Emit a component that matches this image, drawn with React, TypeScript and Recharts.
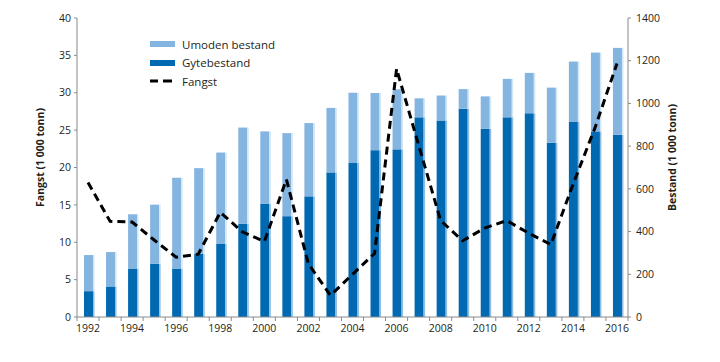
import React from "react";
import { ComposedChart, Bar, Line, XAxis, YAxis, Legend } from "recharts";

const years = [
  "1992", "1993", "1994", "1995", "1996", "1997", "1998", "1999", "2000", "2001",
  "2002", "2003", "2004", "2005", "2006", "2007", "2008", "2009", "2010", "2011",
  "2012", "2013", "2014", "2015", "2016",
];
const gytebestand = [
  121, 143, 227, 249, 227, 295, 342, 437, 531, 472,
  565, 677, 721, 781, 785, 935, 920, 975, 881, 935,
  954, 816, 915, 869, 853,
];
const umodenBestand = [
  169, 161, 254, 277, 425, 402, 428, 450, 338, 389,
  343, 302, 329, 268, 281, 89, 117, 92, 152, 180,
  189, 258, 281, 369, 407,
];
const fangst = [
  18.0, 12.8, 12.7, 10.3, 8.0, 8.4, 14.0, 11.4, 10.1, 18.4,
  7.1, 2.9, 5.7, 8.5, 33.2, 23.0, 12.9, 10.2, 11.9, 12.9,
  11.2, 9.7, 17.7, 25.3, 33.9,
];
const leftTicks = [0, 5, 10, 15, 20, 25, 30, 35, 40];
const rightTicks = [0, 200, 400, 600, 800, 1000, 1200, 1400];

const data = years.map((year, i) => ({
  year,
  gyte: gytebestand[i],
  umoden: umodenBestand[i],
  fangst: fangst[i],
}));

const FONT = "'Open Sans', sans-serif";
const DARK = "#0069b1";
const LIGHT = "#84b4e0";
const AXIS = "#8a8a8a";
const TEXT = "#231f20";

const makeShape = (edge: string) => (props: any) => {
  const { x, y, width, height, fill } = props;
  if (!height || height <= 0) return <g />;
  return (
    <g>
      <rect x={x} y={y} width={width} height={height} fill={fill} />
      <rect x={x + width} y={y} width={1.5} height={height} fill={edge} />
    </g>
  );
};

const XTick = (props: any) => {
  const { x, y, payload, index } = props;
  const off = payload && typeof payload.offset === "number" && payload.offset > 0 ? payload.offset : 11;
  const axisY = y - 6;
  const last = index === years.length - 1;
  return (
    <g>
      <line x1={x - off} x2={x - off} y1={axisY} y2={axisY + 4} stroke={AXIS} strokeWidth={1} />
      {last && <line x1={x + off} x2={x + off} y1={axisY} y2={axisY + 4} stroke={AXIS} strokeWidth={1} />}
      {index % 2 === 0 && (
        <text x={x} y={axisY + 7.5} dy="0.71em" textAnchor="middle" fontSize={10.5} fontFamily={FONT} fill={TEXT}>
          {payload.value}
        </text>
      )}
    </g>
  );
};

const LeftTitle = (props: any) => {
  const vb = props.viewBox || {};
  const cx = (vb.x ?? 0) + 40;
  const cy = (vb.y ?? 18) + (vb.height ?? 299) / 2 - 10;
  return (
    <text x={cx} y={cy} transform={`rotate(-90, ${cx}, ${cy})`} textAnchor="middle" dominantBaseline="central"
      fontSize={10.5} fontWeight="bold" fontFamily={FONT} fill={TEXT}>
      Fangst (1 000 tonn)
    </text>
  );
};

const RightTitle = (props: any) => {
  const vb = props.viewBox || {};
  const cx = (vb.x ?? 628) + 44;
  const cy = (vb.y ?? 18) + (vb.height ?? 299) / 2 - 10;
  return (
    <text x={cx} y={cy} transform={`rotate(-90, ${cx}, ${cy})`} textAnchor="middle" dominantBaseline="central"
      fontSize={10.5} fontWeight="bold" fontFamily={FONT} fill={TEXT}>
      Bestand (1 000 tonn)
    </text>
  );
};

const legendItems = [
  { label: "Umoden bestand", kind: "light" },
  { label: "Gytebestand", kind: "dark" },
  { label: "Fangst", kind: "line" },
];

const renderLegend = () => (
  <div style={{ fontFamily: FONT, fontSize: 11.5, color: TEXT }}>
    {legendItems.map((it) => (
      <div key={it.label} style={{ display: "flex", alignItems: "center", height: 18.5 }}>
        <svg width={32} height={10} style={{ display: "block" }}>
          {it.kind === "light" && <rect x={0} y={2} width={25} height={6} fill={LIGHT} />}
          {it.kind === "dark" && <rect x={0} y={2} width={25} height={6} fill={DARK} />}
          {it.kind === "line" && (
            <g>
              <rect x={0} y={3.5} width={8} height={3} fill="#000" />
              <rect x={13} y={3.5} width={9} height={3} fill="#000" />
            </g>
          )}
        </svg>
        <span style={{ whiteSpace: "nowrap" }}>{it.label}</span>
      </div>
    ))}
  </div>
);

export default function App() {
  return (
    <div style={{ position: "absolute", left: 0, top: 0, width: 720, height: 362, background: "#fff" }}>
      <ComposedChart width={720} height={362} data={data} margin={{ top: 18, right: 0, bottom: 15, left: 0 }}>
        <XAxis
          dataKey="year"
          height={30}
          interval={0}
          tickLine={false}
          tickSize={4}
          tickMargin={2}
          axisLine={{ stroke: AXIS }}
          tick={<XTick />}
        />
        <YAxis
          yAxisId="left"
          width={77}
          domain={[0, 40]}
          ticks={leftTicks}
          interval={0}
          tickSize={3}
          tickMargin={3}
          axisLine={{ stroke: AXIS }}
          tickLine={{ stroke: AXIS }}
          tick={{ fontSize: 10.5, fontFamily: FONT, fill: TEXT }}
          label={<LeftTitle />}
        />
        <YAxis
          yAxisId="right"
          orientation="right"
          width={92}
          domain={[0, 1400]}
          ticks={rightTicks}
          interval={0}
          tickSize={3}
          tickMargin={5}
          axisLine={{ stroke: AXIS }}
          tickLine={{ stroke: AXIS }}
          tick={{ fontSize: 10.5, fontFamily: FONT, fill: TEXT, textAnchor: "start" }}
          label={<RightTitle />}
        />
        <Legend
          layout="vertical"
          align="center"
          verticalAlign="middle"
          content={renderLegend}
          wrapperStyle={{ left: 150, top: 35, width: 160, height: 56 }}
        />
        <Bar yAxisId="right" dataKey="gyte" name="Gytebestand" stackId="a" fill={DARK} barSize={9}
          shape={makeShape("#8fbde2")} isAnimationActive={false} />
        <Bar yAxisId="right" dataKey="umoden" name="Umoden bestand" stackId="a" fill={LIGHT} barSize={9}
          shape={makeShape("#d3e6f5")} isAnimationActive={false} />
        <Line yAxisId="left" type="linear" dataKey="fangst" name="Fangst" stroke="#000" strokeWidth={3}
          strokeDasharray="8 5" dot={false} activeDot={false} isAnimationActive={false} />
      </ComposedChart>
    </div>
  );
}
